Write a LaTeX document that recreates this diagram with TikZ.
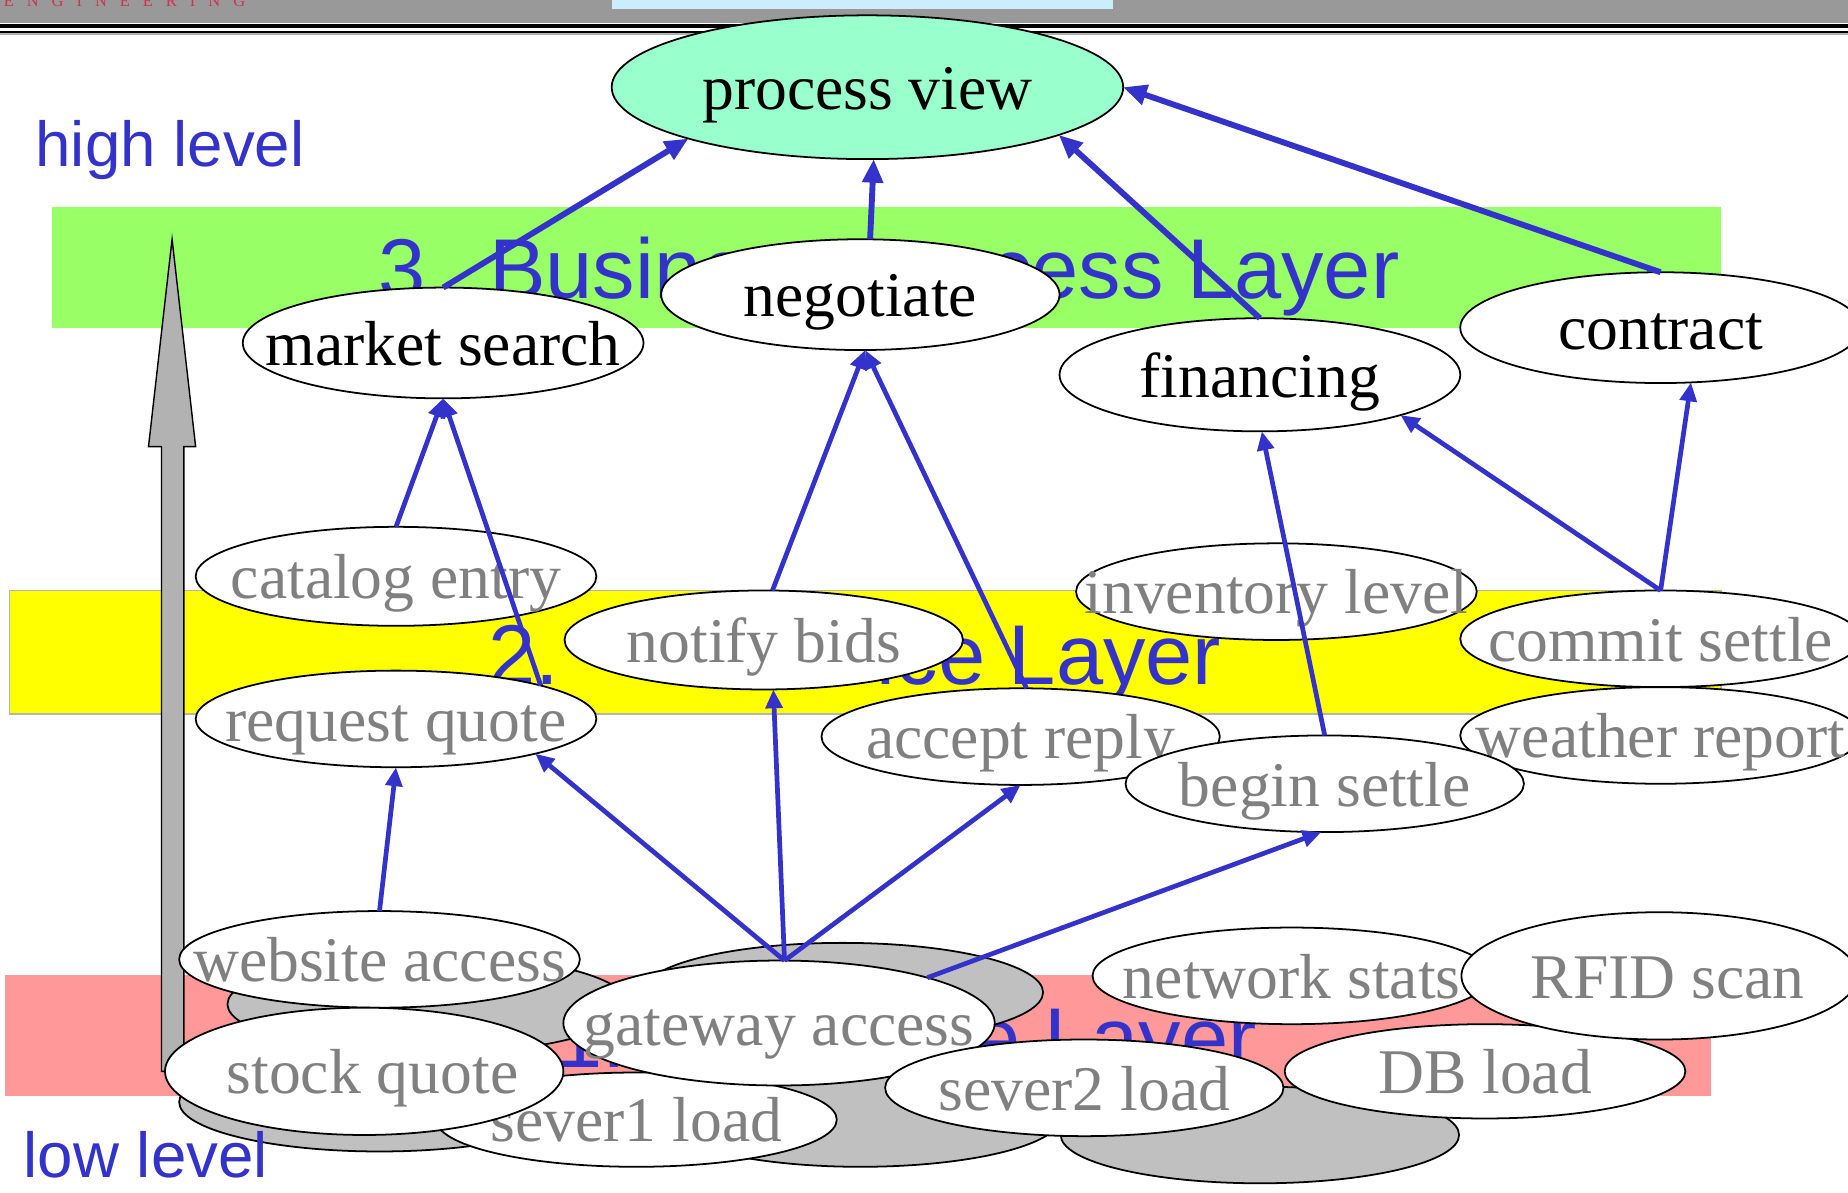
\documentclass[tikz,border=0pt]{standalone}
\usepackage{fontspec}
\setmainfont{Liberation Serif}
\newfontfamily\arialfont{Liberation Sans}
\usetikzlibrary{shapes.geometric,arrows.meta}

\definecolor{linkblue}{RGB}{51,51,204}
\definecolor{eventgray}{RGB}{128,128,128}
\definecolor{pvgreen}{RGB}{153,255,204}
\definecolor{bizgreen}{RGB}{153,255,102}
\definecolor{svcyellow}{RGB}{255,255,0}
\definecolor{bandedge}{RGB}{180,180,180}
\definecolor{respink}{RGB}{255,153,153}
\definecolor{shadowgray}{RGB}{192,192,192}
\definecolor{bargray}{RGB}{153,153,153}
\definecolor{barblue}{RGB}{204,236,255}
\definecolor{arrowgray}{RGB}{178,178,178}
\definecolor{logored}{RGB}{204,51,85}

% event label: zero width, baseline sits 0.35em below the ellipse centre
\newcommand\evtext[2][0pt]{\makebox[0pt]{\raisebox{0pt}[0.7em][0pt]{\hspace*{#1}#2}}}

\begin{document}
\begin{tikzpicture}[x=1pt,y=-1pt,
  ev/.style={ellipse, draw=black, line width=1.5pt, fill=white, inner sep=0pt,
    outer sep=0pt, font=\fontsize{54}{60}\selectfont, text=eventgray},
  biz/.style={ev, text=black},
  sz/.style 2 args={minimum width=#1pt, minimum height=#2pt},
  shadowev/.style={ellipse, draw=black, line width=1.5pt, fill=shadowgray,
    inner sep=0pt, minimum width=340pt, minimum height=84pt},
  link/.style={draw=linkblue, line width=4pt, -{Triangle[length=16pt,width=14pt]}},
  toplink/.style={link, line width=5pt, -{Triangle[length=20pt,width=17pt]}},
  layerlbl/.style={anchor=base west, inner sep=0pt, text=linkblue,
    font=\arialfont\fontsize{72}{80}\selectfont},
  levellbl/.style={anchor=base west, inner sep=0pt, text=linkblue,
    font=\arialfont\fontsize{54}{60}\selectfont}]

\useasboundingbox (0,0) rectangle (1568,1012);
\fill[white] (0,0) rectangle (1568,1012);

% header bar
\fill[bargray] (0,0) rectangle (1568,19.8);
\fill[barblue] (519,0) rectangle (944,7.6);
\fill[black] (0,20.6) rectangle (1568,23.8);
\fill[black] (0,26) rectangle (1568,28.3);
\fill[black!30] (0,28.3) rectangle (1568,29.4);
\begin{scope}
  \clip (0,0) rectangle (300,19.5);
  \node[anchor=base west, inner sep=0pt, text=logored,
    font=\fontsize{14}{14}\selectfont] (logo) at (3,5.5)
    {E\hspace{11pt}N\hspace{11pt}G\hspace{11pt}I\hspace{11pt}N\hspace{11pt}E\hspace{11pt}E\hspace{11pt}R\hspace{11pt}I\hspace{11pt}N\hspace{11pt}G};
\end{scope}

% layer bands
\fill[bizgreen] (44,176) rectangle (1460,278);
\filldraw[fill=svcyellow, draw=bandedge, line width=1.5pt] (8,501) rectangle (1460,606);
\fill[respink] (4,827) rectangle (1452,930);

\node[layerlbl] (l3) at (321,253) {3.\hspace{0.1em} Business Process Layer};
\node[layerlbl] (l2) at (414,581) {2.\hspace{1.32em} Service Layer};
\node[layerlbl] (l1) at (471,906) {1. Resource Layer};

% level arrow
\filldraw[fill=arrowgray, draw=black, line width=1.2pt]
  (137,909) -- (137,379) -- (126,379) -- (146,203) -- (166,379)
  -- (156,379) -- (156,909) -- cycle;

% stacked (shadow) event ellipses
\node[shadowev] (g1) at (363,852) {};
\node[shadowev] (g2) at (322,935) {};
\node[shadowev] (g3) at (715,842) {};
\node[shadowev] (g4) at (730,948) {};
\node[shadowev, minimum width=338pt, minimum height=82pt] (g5) at (1069,963) {};

% process view and business events
\node[biz, fill=pvgreen, sz={434}{122}] (pv) at (736,74) {\evtext{process view}};
\node[biz, sz={340}{94}] (ms) at (376,291) {\evtext{market search}};
\node[biz, sz={338}{94}] (ng) at (730,250) {\evtext{negotiate}};
\node[biz, sz={340}{96}] (fn) at (1069,318) {\evtext{financing}};
\node[biz, sz={340}{94}] (ct) at (1409,278) {\evtext{contract}};

% service events
\node[ev, sz={340}{84}] (ce) at (336,489) {\evtext{catalog entry}};
\node[ev, sz={338}{84}] (nb) at (648,543) {\evtext{notify bids}};
\node[ev, sz={340}{82}] (il) at (1083,502) {\evtext{inventory level}};
\node[ev, sz={340}{82}] (cs) at (1409,542) {\evtext{commit settle}};
\node[ev, sz={340}{82}] (rq) at (336,610) {\evtext{request quote}};
\node[ev, sz={338}{82}] (ar) at (866,625) {\evtext{accept reply}};
\node[ev, sz={340}{82}] (wr) at (1409,624) {\evtext{weather report}};
\node[ev, sz={338}{82}] (bs) at (1124,665) {\evtext{begin settle}};

% resource events
\node[ev, sz={340}{82}] (wa) at (322,814) {\evtext{website access}};
\node[ev, sz={340}{80}] (s1) at (540,950) {\evtext{sever1 load}};
\node[ev, sz={338}{108}] (sq) at (309,909) {\evtext[14pt]{stock quote}};
\node[ev, sz={366}{106}] (ga) at (661,868) {\evtext{gateway access}};
\node[ev, sz={338}{82}] (s2) at (920,923) {\evtext{sever2 load}};
\node[ev, sz={338}{82}] (ns) at (1096,828) {\evtext{network stats}};
\node[ev, sz={340}{80}] (db) at (1260,909) {\evtext{DB load}};
\node[ev, sz={336}{108}] (rf) at (1408,828) {\evtext[14pt]{RFID scan}};

% level captions
\node[levellbl] (hi) at (30,141) {high level};
\node[levellbl] (lo) at (20,999) {low level};

% derivation links
\draw[toplink] (ms.north) -- (pv.196);
\draw[toplink] (ng.80) -- (pv.275);
\draw[toplink] (fn.north) -- (pv.346);
\draw[toplink] (ct.north) -- (pv.east);
\draw[link] (ce.north) -- (ms.south);
\draw[link] (rq.13) -- (ms.south);
\draw[link] (nb.80) -- (ng.275);
\draw[link] (ar.83) -- (ng.275);
\draw[link] (bs.north) -- (fn.272);
\draw[link] (cs.north) -- (fn.344);
\draw[link] (cs.north) -- (ct.299);
\draw[link] (wa.north) -- (rq.south);
\draw[link] (ga.85) -- (rq.346);
\draw[link] (ga.85) -- (nb.281);
\draw[link] (ga.85) -- (ar.south);
\draw[link] (ga.17) -- (bs.266);
\end{tikzpicture}
\end{document}
